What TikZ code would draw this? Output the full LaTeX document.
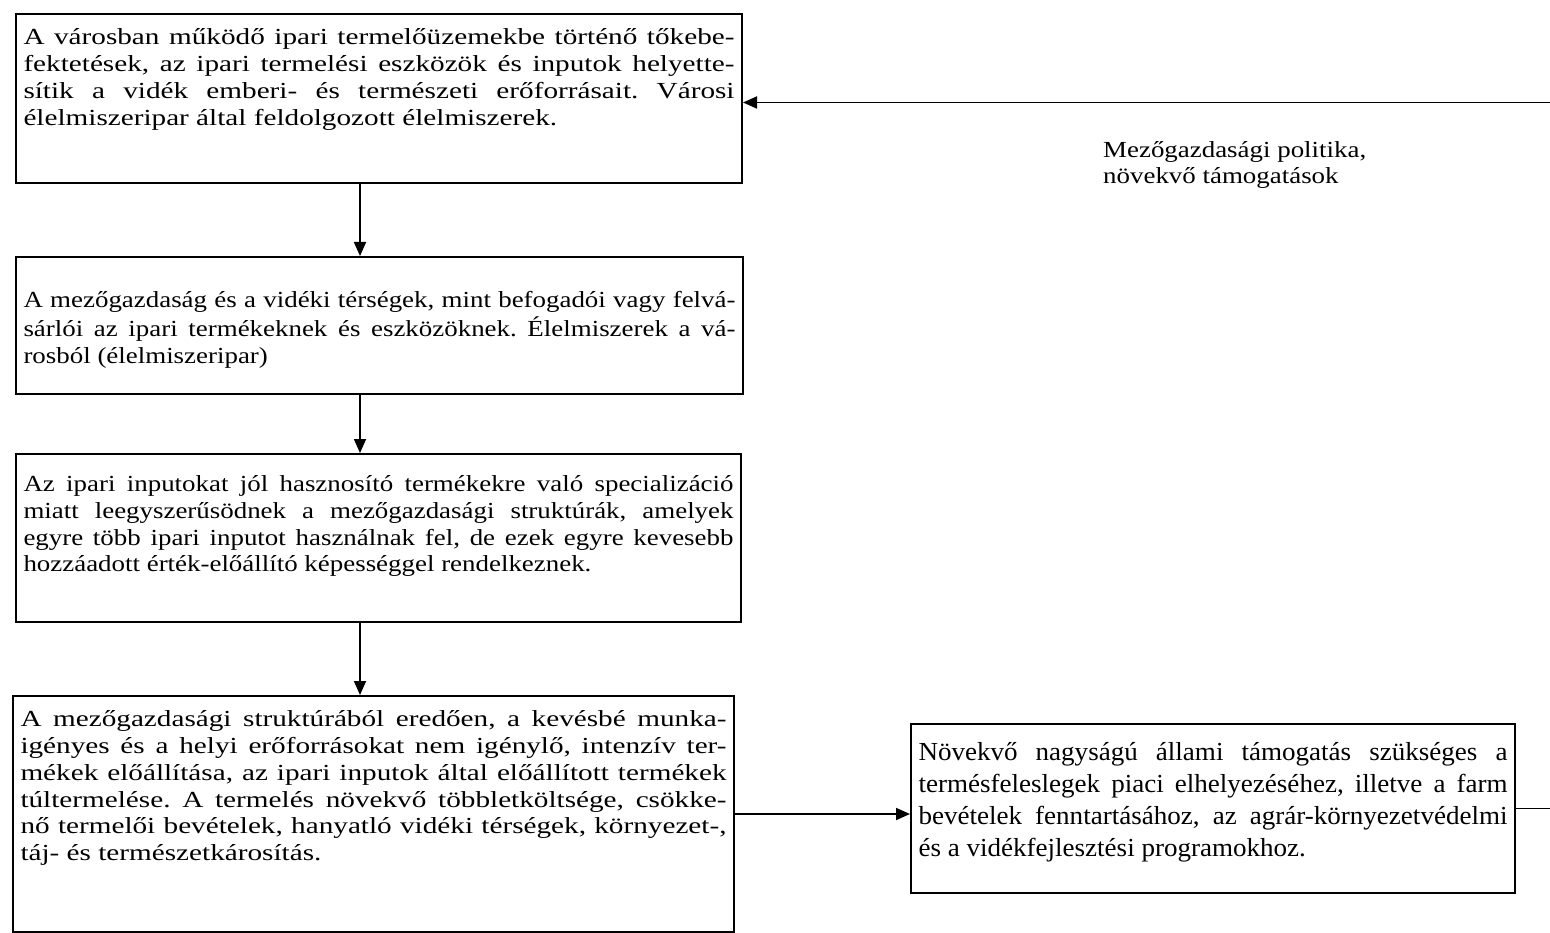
\documentclass[tikz,border=0pt]{standalone}
\usepackage{fontspec}
\setmainfont{Liberation Serif}
\newfontfamily\wideserif[FakeStretch=1.17]{Liberation Serif}
\newfontfamily\widerserif[FakeStretch=1.27]{Liberation Serif}
\newfontfamily\supportserif[FakeStretch=1.04]{Liberation Serif}
\usetikzlibrary{arrows.meta}
\frenchspacing

\newcommand{\jline}[1]{\makebox[\linewidth][s]{#1}}
\newcommand{\stagetext}[4]{\parbox[c][#1pt][t]{#2pt}{\vspace*{#3pt}\strut #4}}

\tikzset{
  stage/.style     = {draw, line width=2pt, rectangle, anchor=north west, inner xsep=7.5pt, inner ysep=0pt,
                      font=\wideserif\fontsize{23}{26.7}\selectfont},
  widestage/.style = {stage, font=\widerserif\fontsize{23}{26.7}\selectfont},
  support/.style   = {stage, font=\supportserif\fontsize{26}{31.7}\selectfont},
  policy/.style    = {anchor=base west, inner sep=0pt, align=left, font=\wideserif\fontsize{23}{26.7}\selectfont},
  link/.style      = {->, line width=1.8pt}
}

\begin{document}
\begin{tikzpicture}[x=1pt, y=-1pt, >={Triangle[length=14pt, width=12pt]}]
\useasboundingbox (0,0) rectangle (1550,933);
\clip (0,0) rectangle (1550,933);

% Left column
\draw node [widestage] (b1) at (15,13) {\stagetext{169}{711}{12.3}{%
\jline{A városban működő ipari termelőüzemekbe történő tőkebe-}\\
\jline{fektetések, az ipari termelési eszközök és inputok helyette-}\\
\jline{sítik a vidék emberi- és természeti erőforrásait. Városi}\\
élelmiszeripar által feldolgozott élelmiszerek.}};

\draw node [stage] (b2) at (15,256) {\stagetext{137}{712}{32.3}{%
\jline{A mezőgazdaság és a vidéki térségek, mint befogadói vagy felvá-}\\
\jline{sárlói az ipari termékeknek és eszközöknek. Élelmiszerek a vá-}\\
rosból (élelmiszeripar)}};

\draw node [stage] (b3) at (15,453) {\stagetext{168}{710}{19}{%
\jline{Az ipari inputokat jól hasznosító termékekre való specializáció}\\
\jline{miatt leegyszerűsödnek a mezőgazdasági struktúrák, amelyek}\\
\jline{egyre több ipari inputot használnak fel, de ezek egyre kevesebb}\\
hozzáadott érték-előállító képességgel rendelkeznek.}};

\draw node [widestage] (b4) at (12,695) {\stagetext{236}{706}{12.3}{%
\jline{A mezőgazdasági struktúrából eredően, a kevésbé munka-}\\
\jline{igényes és a helyi erőforrásokat nem igénylő, intenzív ter-}\\
\jline{mékek előállítása, az ipari inputok által előállított termékek}\\
\jline{túltermelése. A termelés növekvő többletköltsége, csökke-}\\
\jline{nő termelői bevételek, hanyatló vidéki térségek, környezet-,}\\
táj- és természetkárosítás.}};

% Right side
\draw node [support] (rbox) at (910,723) {\stagetext{169}{589}{14.8}{%
\jline{Növekvő nagyságú állami támogatás szükséges a}\\
\jline{termésfeleslegek piaci elhelyezéséhez, illetve a farm}\\
\jline{bevételek fenntartásához, az agrár-környezetvédelmi}\\
és a vidékfejlesztési programokhoz.}};

\draw node [policy] (pol) at (1103,184) {Mezőgazdasági politika,\\növekvő támogatások};

% Connections
\coordinate (spine) at (360,0);
\draw[link](b1.south -| spine) -- (b2.north -| spine);
\draw[link](b2.south -| spine) -- (b3.north -| spine);
\draw[link](b3.south -| spine) -- (b4.north -| spine);
\draw[link](b4.east) -- (b4.east -| rbox.west);
\draw[link](rbox.east) -- ++(60,0) |- ([yshift=-4pt]b1.east);

\end{tikzpicture}
\end{document}
